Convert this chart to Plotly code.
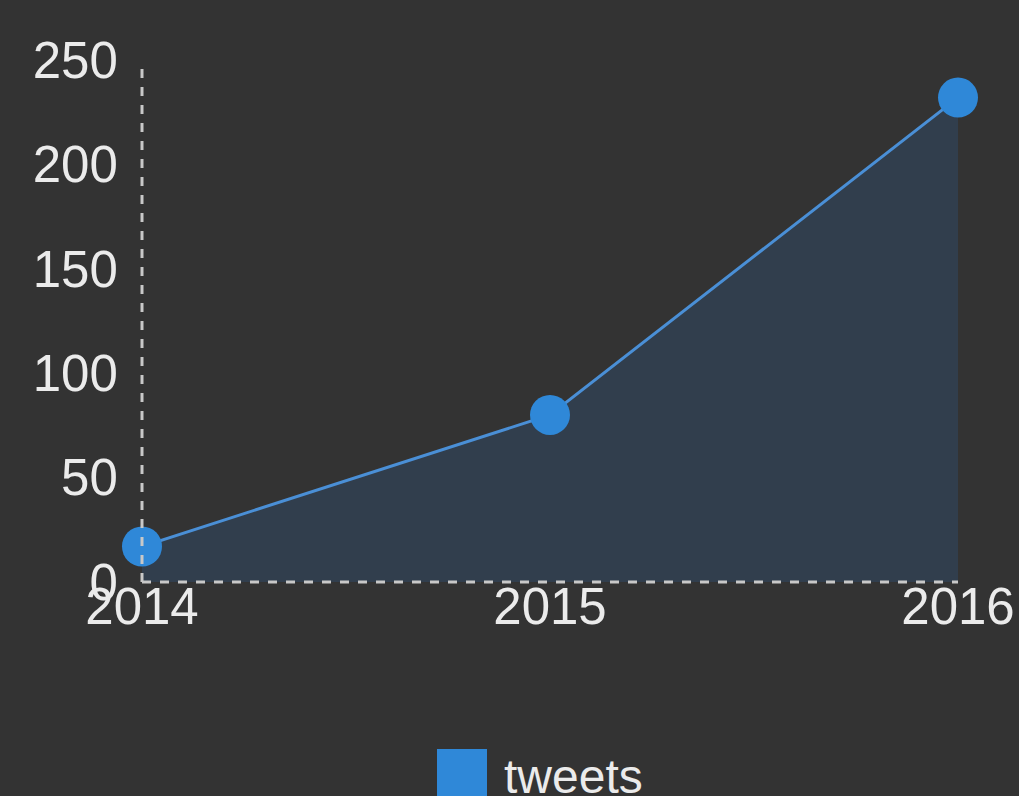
import plotly.graph_objects as go

years = [2014, 2015, 2016]
tweets = [17, 80, 232]
series_name = "tweets"
y_ticks = [0, 50, 100, 150, 200, 250]

BG = "#333333"
TXT = "#ebebeb"
BLUE = "#2f88d8"
FONT = "Liberation Sans, Arial, sans-serif"

L, R, T, B = 142, 61, 60, 214
PW = 1019 - L - R
PH = 796 - T - B

fig = go.Figure()
fig.add_trace(go.Scatter(
    x=years, y=tweets, name=series_name, mode="lines+markers",
    fill="tozeroy", fillcolor="rgba(45,125,215,0.16)",
    line=dict(color="#4a8fd6", width=3),
    marker=dict(color=BLUE, size=40),
    cliponaxis=False, showlegend=False,
))

# dashed axis lines
fig.add_shape(type="line", xref="paper", yref="paper", x0=0, x1=1, y0=0, y1=0,
              line=dict(color="#c8c8c8", width=3, dash="dash"))
fig.add_shape(type="line", xref="paper", yref="paper", x0=0, x1=0, y0=0, y1=0.99,
              line=dict(color="#c8c8c8", width=3, dash="dash"))

# legend (manual, large square swatch)
fig.add_shape(type="rect", xref="paper", yref="paper",
              x0=(437-L)/PW, x1=(487-L)/PW,
              y0=(T+PH-800)/PH, y1=(T+PH-749)/PH,
              fillcolor=BLUE, line=dict(width=0))
fig.add_annotation(text=series_name, xref="paper", yref="paper",
                   x=(502-L)/PW, y=(T+PH-776)/PH,
                   xanchor="left", yanchor="middle", showarrow=False,
                   font=dict(size=48, color=TXT, family=FONT))

fig.update_layout(
    width=1019, height=796,
    paper_bgcolor=BG, plot_bgcolor=BG,
    margin=dict(l=L, r=R, t=T, b=B),
    font=dict(family=FONT, size=51, color=TXT),
    xaxis=dict(range=[2014, 2016], tickvals=years, ticktext=[str(y) for y in years],
               showgrid=False, zeroline=False, showline=False, automargin=False,
               ticklabeloverflow="allow", ticks="", ticklabelstandoff=-10),
    yaxis=dict(range=[0, 250], tickvals=y_ticks, showgrid=False, zeroline=False,
               showline=False, automargin=False, ticklabeloverflow="allow",
               ticks="outside", ticklen=13, tickcolor="rgba(0,0,0,0)"),
    showlegend=False,
)

fig.write_html("out.html", config={"displayModeBar": False},
               post_script="document.body.style.margin='0';document.body.style.background='#333333';")
